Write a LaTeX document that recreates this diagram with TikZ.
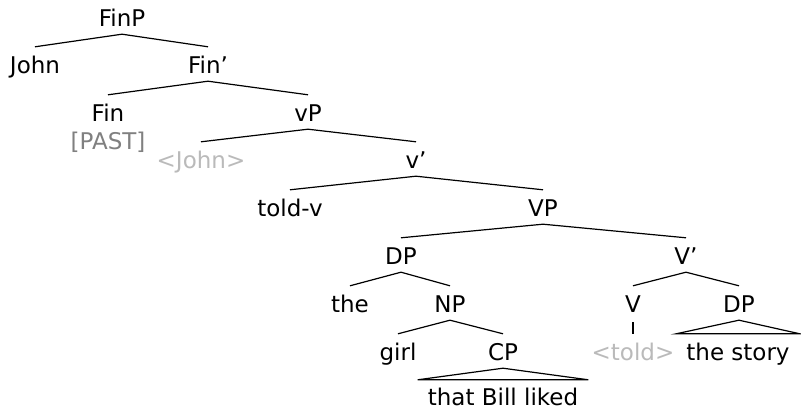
\documentclass[tikz,border=0pt]{standalone}
\usepackage{fontspec}
\setmainfont{DejaVu Sans}

\tikzset{
  cat/.style={anchor=base, inner sep=0pt, text height=27pt, text depth=7pt,
    font=\fontsize{23}{27}\selectfont},
  feat/.style={cat, text=black!50},
  trace/.style={cat, text=black!27},
  leaf/.style={cat, inner xsep=10pt},
  branch/.style={line width=1.2pt},
}

\begin{document}
\begin{tikzpicture}[x=1pt,y=-1pt]
        \useasboundingbox (0,0) rectangle (801,411);

        % les noeuds, niveau par niveau
        \node[cat] (FinP) at (122,27) {FinP};
        \node[cat] (John) at (35,74) {John};
        \node[cat] (Fin1) at (208,74) {Fin’};
        \node[cat] (Fin) at (108,122) {Fin};
        \node[feat] (Past) at (108,150) {[PAST]};
        \node[cat] (vP) at (308,122) {vP};
        \node[trace] (JohnT) at (201,169) {<John>};
        \node[cat] (v1) at (416,169) {v’};
        \node[cat] (toldv) at (290,217) {told-v};
        \node[cat] (VP) at (543,217) {VP};
        \node[cat] (DP) at (401,265) {DP};
        \node[cat] (V1) at (686,265) {V’};
        \node[cat] (the) at (350,313) {the};
        \node[cat] (NP) at (450,313) {NP};
        \node[cat] (V) at (633,313) {V};
        \node[cat] (DPb) at (739,313) {DP};
        \node[cat] (girl) at (398,361) {girl};
        \node[cat] (CP) at (503,361) {CP};
        \node[trace] (toldT) at (633,361) {<told>};
        \node[leaf] (story) at (738,361) {the story};
        \node[leaf] (liked) at (503,406) {that Bill liked};

        % les branches
        \draw[branch] (FinP.south) -- (John.north);
        \draw[branch] (FinP.south) -- (Fin1.north);
        \draw[branch] (Fin1.south) -- (Fin.north);
        \draw[branch] (Fin1.south) -- (vP.north);
        \draw[branch] (vP.south) -- (JohnT.north);
        \draw[branch] (vP.south) -- (v1.north);
        \draw[branch] (v1.south) -- (toldv.north);
        \draw[branch] (v1.south) -- (VP.north);
        \draw[branch] (VP.south) -- (DP.north);
        \draw[branch] (VP.south) -- (V1.north);
        \draw[branch] (DP.south) -- (the.north);
        \draw[branch] (DP.south) -- (NP.north);
        \draw[branch] (V1.south) -- (V.north);
        \draw[branch] (V1.south) -- (DPb.north);
        \draw[branch] (NP.south) -- (girl.north);
        \draw[branch] (NP.south) -- (CP.north);
        \draw[branch] ([yshift=-2pt]V.south) -- (toldT.north);

        % triangles pour les constituants non analyses
        \draw[branch] (DPb.south) -- (story.north west) -- (story.north east) -- cycle;
        \draw[branch] (CP.south) -- ([yshift=-1pt]liked.north west) -- ([yshift=-1pt]liked.north east) -- cycle;
\end{tikzpicture}
\end{document}
